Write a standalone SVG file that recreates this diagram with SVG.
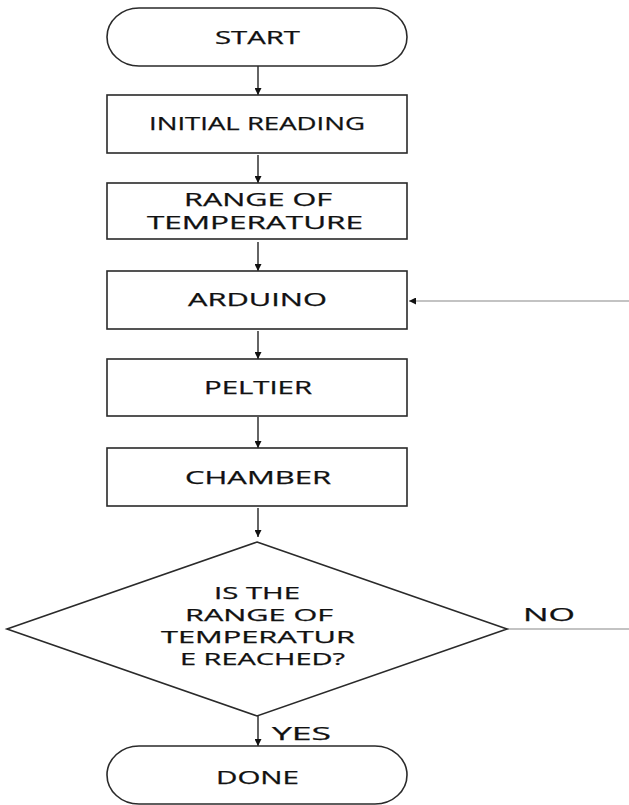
<svg xmlns="http://www.w3.org/2000/svg" width="629" height="805" viewBox="0 0 629 805">
<defs>
<marker id="ah" viewBox="0 0 10 10" refX="10" refY="5" markerWidth="7" markerHeight="7" markerUnits="userSpaceOnUse" orient="auto">
<path d="M0,0 L10,5 L0,10 z" fill="#111"/>
</marker>
<style>
.shape{fill:#fff;stroke:#2a2a2a;stroke-width:1.6}
.lbl{font-family:"Open Sans","Liberation Sans",sans-serif;font-size:17.5px;fill:#111;text-anchor:middle;stroke:#111;stroke-width:0.25}
.q{font-size:16px}
.c{fill:none;stroke:#111;stroke-width:1.3}
.g{fill:none;stroke:#888;stroke-width:1.2}
</style>
</defs>
<rect width="629" height="805" fill="#fff"/>
<g id="connectors">
<line class="c" x1="258" y1="66" x2="258" y2="95" marker-end="url(#ah)"/>
<line class="c" x1="258" y1="155" x2="258" y2="183" marker-end="url(#ah)"/>
<line class="c" x1="258" y1="242" x2="258" y2="271" marker-end="url(#ah)"/>
<line class="c" x1="258" y1="331" x2="258" y2="359" marker-end="url(#ah)"/>
<line class="c" x1="258" y1="417" x2="258" y2="448" marker-end="url(#ah)"/>
<line class="c" x1="258" y1="508" x2="258" y2="537" marker-end="url(#ah)"/>
<line class="c" x1="258" y1="716" x2="258" y2="746" marker-end="url(#ah)"/>
<line class="g" x1="629" y1="301" x2="409" y2="301" marker-end="url(#ah)"/>
<line class="g" x1="507" y1="629" x2="629" y2="629"/>
<text class="lbl" x="549" y="621" textLength="52" lengthAdjust="spacingAndGlyphs">NO</text>
<text class="lbl" x="301.5" y="740" textLength="59" lengthAdjust="spacingAndGlyphs">YES</text>
</g>
<g id="start">
<rect class="shape" x="107" y="8" width="300" height="58" rx="32" ry="29"/>
<text class="lbl" x="257.5" y="44" textLength="85" lengthAdjust="spacingAndGlyphs">START</text>
</g>
<g id="initial">
<rect class="shape" x="107" y="95" width="300" height="58"/>
<text class="lbl" x="257" y="130" textLength="216" lengthAdjust="spacingAndGlyphs">INITIAL READING</text>
</g>
<g id="range">
<rect class="shape" x="107" y="183" width="300" height="56"/>
<text class="lbl" x="258" y="206" textLength="148" lengthAdjust="spacingAndGlyphs">RANGE OF</text>
<text class="lbl" x="255" y="229" textLength="216" lengthAdjust="spacingAndGlyphs">TEMPERATURE</text>
</g>
<g id="arduino">
<rect class="shape" x="107" y="271" width="300" height="58"/>
<text class="lbl" x="257.5" y="306" textLength="139" lengthAdjust="spacingAndGlyphs">ARDUINO</text>
</g>
<g id="peltier">
<rect class="shape" x="107" y="359" width="300" height="57"/>
<text class="lbl" x="258" y="394" textLength="108" lengthAdjust="spacingAndGlyphs">PELTIER</text>
</g>
<g id="chamber">
<rect class="shape" x="107" y="448" width="300" height="58"/>
<text class="lbl" x="258" y="484" textLength="146" lengthAdjust="spacingAndGlyphs">CHAMBER</text>
</g>
<g id="decision">
<polygon class="shape" points="257,542 507,629 257,716 7,629"/>
<text class="lbl q" x="257" y="599" textLength="86" lengthAdjust="spacingAndGlyphs">IS THE</text>
<text class="lbl q" x="259" y="621" textLength="148" lengthAdjust="spacingAndGlyphs">RANGE OF</text>
<text class="lbl q" x="258" y="643" textLength="194" lengthAdjust="spacingAndGlyphs">TEMPERATUR</text>
<text class="lbl q" x="262.5" y="665" textLength="165" lengthAdjust="spacingAndGlyphs">E REACHED?</text>
</g>
<g id="done">
<rect class="shape" x="107" y="746" width="300" height="58" rx="32" ry="29"/>
<text class="lbl" x="257.5" y="784" textLength="83" lengthAdjust="spacingAndGlyphs">DONE</text>
</g>
</svg>
